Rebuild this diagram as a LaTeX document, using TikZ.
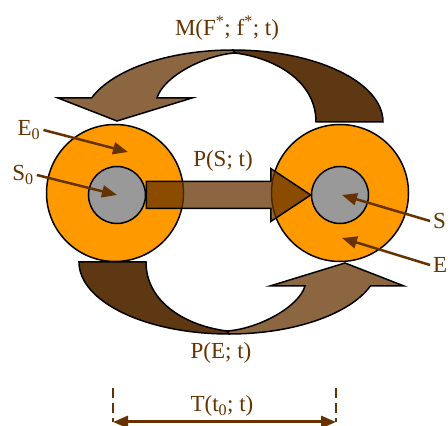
\documentclass[tikz,border=0pt]{standalone}
\usepackage{fontspec}
\setmainfont{Liberation Serif}
\usetikzlibrary{arrows.meta,calc,positioning}
\definecolor{umber}{RGB}{102,51,0}
\definecolor{bark}{RGB}{94,56,18}
\definecolor{amber}{RGB}{255,153,0}
\definecolor{stone}{RGB}{153,153,153}

\begin{document}
\begin{tikzpicture}[x=1pt,y=1pt,>={Triangle[length=15pt,width=12pt]},
  font=\fontsize{23}{27}\selectfont,
  ring/.style={circle,draw,line width=1.5pt,fill=amber,inner sep=0pt,minimum size=137pt},
  core/.style={circle,draw,line width=1.5pt,fill=stone,inner sep=0pt,minimum size=57pt},
  tag/.style={text=umber,inner sep=3pt},
  pointer/.style={->,draw=umber,line width=2.5pt},
  crescent/.style={draw,line width=1.5pt,line join=miter},
  pipe/.style={draw,line width=1.5pt,fill=umber,fill opacity=0.75,line join=miter},
  dimtick/.style={draw=umber,line width=2.5pt,dash pattern=on 10pt off 5pt},
  timespan/.style={<->,draw=umber,line width=3pt}]
\useasboundingbox (0,0) rectangle (448,426);
% curved transfer arrows (top one, bottom one turned round)
\foreach \r in {0,180}{
  \begin{scope}[rotate around={\r:(231,234)}]
    \filldraw[crescent,fill=bark] (383,304) arc[start angle=0,end angle=90,x radius=150,y radius=72]
      -- (235,373) .. controls (275,368) and (316,345) .. (316,304) -- cycle;
    \filldraw[crescent,fill=umber!75] (233,376) arc[start angle=90,end angle=160.53,x radius=150,y radius=72]
      -- (58,328) -- (117,305) -- (192,328) -- (157,328)
      .. controls (163,349) and (204,371) .. (235,373) -- cycle;
  \end{scope}}
% the two cells
\node[ring] (E0) at (115,233) {};
\node[core] (S0) at (117,231) {};
\node[ring] (E1) at (340,233) {};
\node[core] (S1) at (340,231) {};
% straight arrow
\draw[pipe] ($(S0.east)+(0,13.5)$) -| ($(S1.west)+(-40,26.5)$) -- (S1.west)
  -- ($(S1.west)+(-40,-26.5)$) |- ($(S0.east)+(0,-13.5)$) -- cycle;
% labels
\node[tag] (mig) at (227,398) {M(F\textsuperscript{*}; f\textsuperscript{*}; t)};
\node[tag] (ps) at (223,265) {P(S; t)};
\node[tag] (pe) at (221,73) {P(E; t)};
\node[tag] (tt) at (222,20) {T(t\textsubscript{0}; t)};
\node[tag] (lE0) at (29,296) {E\textsubscript{0}};
\node[tag] (lS0) at (23,251) {S\textsubscript{0}};
\node[tag,anchor=west] (lS1) at (430,205) {S};
\node[tag,anchor=west] (lE1) at (430,161) {E};
\draw[pointer] (lE0.east) -- ($(E0)+(13,41)$);
\draw[pointer] (lS0.east) -- (S0.center);
\draw[pointer] (lS1.west) -- ($(S1)+(2,0)$);
\draw[pointer] (lE1.west) -- ($(E1)+(2,-45)$);
% time span
\coordinate (dL) at (113,4);
\coordinate (dR) at (336,4);
\draw[dimtick] ($(dL)+(0,34)$) -- (dL);
\draw[dimtick] ($(dR)+(0,34)$) -- (dR);
\draw[timespan] (dL) -- (dR);
\end{tikzpicture}
\end{document}
